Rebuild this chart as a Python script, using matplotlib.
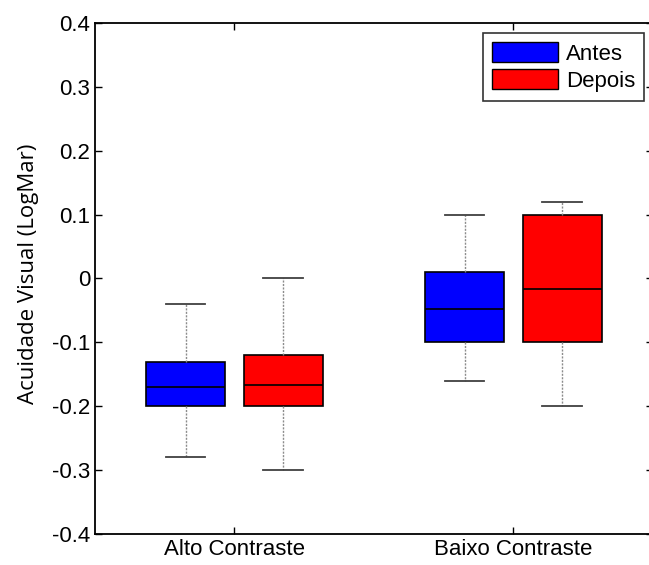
import matplotlib.pyplot as plt
from matplotlib.patches import Patch

groups = ["Alto Contraste", "Baixo Contraste"]
series = ["Antes", "Depois"]
colors = ["#0000ff", "#ff0000"]

# per series: [Alto, Baixo]
whislo = {"Antes": [-0.28, -0.16], "Depois": [-0.30, -0.20]}
q1 = {"Antes": [-0.20, -0.10], "Depois": [-0.20, -0.10]}
med = {"Antes": [-0.17, -0.048], "Depois": [-0.166, -0.016]}
q3 = {"Antes": [-0.13, 0.01], "Depois": [-0.12, 0.10]}
whishi = {"Antes": [-0.04, 0.10], "Depois": [0.0, 0.12]}

yticks = [-0.4, -0.3, -0.2, -0.1, 0, 0.1, 0.2, 0.3, 0.4]
ytick_labels = ["-0.4", "-0.3", "-0.2", "-0.1", "0", "0.1", "0.2", "0.3", "0.4"]

plt.rcParams["font.family"] = ["Liberation Sans", "DejaVu Sans"]

fig = plt.figure(figsize=(6.49, 5.65), dpi=100)
ax = fig.add_axes([0.1464, 0.0549, 0.8596, 0.9044])

offset = 0.175
width = 0.284
for s, (name, col) in enumerate(zip(series, colors)):
    stats = []
    for g in range(len(groups)):
        stats.append({"med": med[name][g], "q1": q1[name][g], "q3": q3[name][g],
                      "whislo": whislo[name][g], "whishi": whishi[name][g], "fliers": []})
    pos = [g + 1 + (offset if s else -offset) for g in range(len(groups))]
    ax.bxp(stats, positions=pos, widths=width, patch_artist=True, showfliers=False,
           boxprops=dict(facecolor=col, edgecolor="black", linewidth=1.2),
           medianprops=dict(color="black", linewidth=1.2),
           whiskerprops=dict(color="#8c8c8c", linewidth=1.0, linestyle=(0, (1.5, 1))),
           capprops=dict(color="#404040", linewidth=1.3),
           capwidths=width / 2)

ax.set_xlim(0.5, 2.5)
ax.set_ylim(-0.4, 0.4)
ax.set_xticks([1, 2])
ax.set_xticklabels(groups, fontsize=16)
ax.set_yticks(yticks)
ax.set_yticklabels(ytick_labels, fontsize=16)
ax.tick_params(direction="in", length=5, width=1, top=True, right=True, pad=3.5)
for sp in ax.spines.values():
    sp.set_linewidth(1.3)

ax.set_ylabel("Acuidade Visual (LogMar)", fontsize=16, family=["Open Sans", "DejaVu Sans"])
ax.yaxis.set_label_coords(-0.100, 0.51)

handles = [Patch(facecolor=c, edgecolor="black", label=n) for n, c in zip(series, colors)]
leg = ax.legend(handles=handles, loc="upper right", bbox_to_anchor=(0.984, 0.980), fontsize=16,
                frameon=True, fancybox=False, edgecolor="black", handlelength=2.95, handleheight=1.0,
                handletextpad=0.36, borderpad=0.4, labelspacing=0.2, borderaxespad=0)
leg.get_frame().set_linewidth(1.2)

fig.savefig("out.png", dpi=100)
